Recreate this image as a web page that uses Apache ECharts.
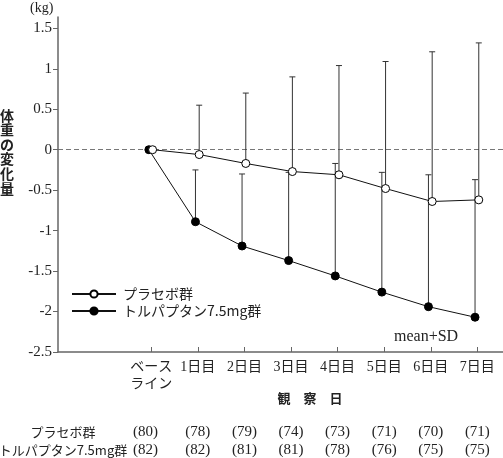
<!DOCTYPE html>
<html>
<head>
<meta charset="utf-8">
<script src="https://cdn.jsdelivr.net/npm/echarts@6/dist/echarts.min.js"></script>
<style>
html,body{margin:0;padding:0;background:#fff;}
#c{width:503px;height:458px;}
</style>
</head>
<body>
<div id="c"></div>
<script>
const categories = ['ベース\nライン','1日目','2日目','3日目','4日目','5日目','6日目','7日目'];
const placeboMean = [0, -0.06, -0.17, -0.27, -0.31, -0.48, -0.64, -0.62];
const placeboSDTop = [null, 0.55, 0.70, 0.90, 1.04, 1.09, 1.21, 1.32];
const tolMean = [0, -0.89, -1.19, -1.37, -1.56, -1.76, -1.94, -2.07];
const tolSDTop = [null, -0.25, -0.30, -0.28, -0.17, -0.28, -0.31, -0.37];
const placeboN = [80, 78, 79, 74, 73, 71, 70, 71];
const tolN = [82, 82, 81, 81, 78, 76, 75, 75];
const groupNames = ['プラセボ群', 'トルパプタン7.5mg群'];

const PL_OFF = 0.03, TOL_OFF = -0.05;
const serif = "'Liberation Serif','Noto Sans CJK JP',serif";
const jp = "'Noto Sans CJK JP','Liberation Serif',sans-serif";

const chart = echarts.init(document.getElementById('c'));
const idx = categories.map((_, i) => i);

function errData(means, tops, off) {
  const d = [];
  means.forEach((m, i) => { if (tops[i] != null) d.push([i + off, m, tops[i]]); });
  return d;
}
function renderErr(params, api) {
  const x = api.value(0), m = api.value(1), t = api.value(2);
  const p0 = api.coord([x, m]), p1 = api.coord([x, t]);
  const st = {stroke: '#333', lineWidth: 1};
  return {type: 'group', children: [
    {type: 'line', shape: {x1: p0[0], y1: p0[1], x2: p1[0], y2: p1[1]}, style: st},
    {type: 'line', shape: {x1: p1[0] - 3, y1: p1[1], x2: p1[0] + 3, y2: p1[1]}, style: st}
  ]};
}

chart.setOption({
  animation: false,
  grid: {left: 58, right: 0, top: 17, bottom: 106, containLabel: false},
  xAxis: {
    type: 'value', min: -2, max: 7.55,
    axisLine: {onZero: false, lineStyle: {color: '#666', width: 1.5}},
    axisTick: {inside: true, length: 5, customValues: idx, lineStyle: {color: '#666'}},
    axisLabel: {customValues: idx, formatter: v => categories[Math.round(v)] || '',
      color: '#222', fontSize: 14, fontFamily: serif, margin: 7, lineHeight: 17},
    splitLine: {show: false}
  },
  yAxis: {
    type: 'value', min: -2.5, max: 1.64, interval: 0.5,
    axisLine: {show: true, onZero: false, lineStyle: {color: '#666', width: 1.5}},
    axisTick: {show: true, inside: false, length: 5, lineStyle: {color: '#666'}},
    axisLabel: {color: '#222', fontSize: 15, fontFamily: serif, margin: 6,
      formatter: v => String(Math.round(v * 10) / 10)},
    splitLine: {show: false}
  },
  legend: {
    left: 66, top: 282, orient: 'vertical', itemGap: 3, itemWidth: 44, itemHeight: 9,
    data: groupNames,
    textStyle: {color: '#222', fontSize: 14, fontFamily: jp, padding: [0, 0, 0, 2]}
  },
  series: [
    {type: 'custom', renderItem: renderErr, data: errData(placeboMean, placeboSDTop, PL_OFF), z: 1, silent: true},
    {type: 'custom', renderItem: renderErr, data: errData(tolMean, tolSDTop, TOL_OFF), z: 1, silent: true},
    {name: groupNames[1], type: 'line', data: tolMean.map((v, i) => [i + TOL_OFF, v]),
      symbol: 'circle', symbolSize: 8, z: 3,
      lineStyle: {color: '#111', width: 1}, itemStyle: {color: '#000', borderColor: '#000', borderWidth: 1}},
    {name: groupNames[0], type: 'line', data: placeboMean.map((v, i) => [i + PL_OFF, v]),
      symbol: 'circle', symbolSize: 8, z: 4,
      lineStyle: {color: '#111', width: 1}, itemStyle: {color: '#fff', borderColor: '#000', borderWidth: 1},
      markLine: {silent: true, symbol: 'none', label: {show: false},
        lineStyle: {color: '#777', type: [5, 3], width: 1},
        data: [{yAxis: 0}], z: 0}
    }
  ]
});

const g = [];
g.push({type: 'text', left: 30, top: 1, style: {text: '(kg)', fontSize: 14, fontFamily: serif, fill: '#222'}});
g.push({type: 'text', left: 0, top: 108, style: {text: '体\n重\nの\n変\n化\n量', fontSize: 14, lineHeight: 14.6, fontWeight: 'bold', fontFamily: jp, fill: '#222'}});
const mx = chart.convertToPixel({xAxisIndex: 0}, 5.9);
g.push({type: 'text', x: mx, y: 337, style: {text: 'mean+SD', fontSize: 16, fontFamily: serif, fill: '#222', align: 'center', verticalAlign: 'middle'}});
g.push({type: 'text', x: 310, y: 398, style: {text: '観　察　日', fontSize: 13, fontWeight: 'bold', fontFamily: jp, fill: '#222', align: 'center', verticalAlign: 'middle'}});
const rows = [[groupNames[0], placeboN, 432], [groupNames[1], tolN, 450]];
rows.forEach(r => {
  g.push({type: 'text', x: 63, y: r[2], style: {text: r[0], fontSize: 13, fontFamily: jp, fill: '#222', align: 'center', verticalAlign: 'middle'}});
  r[1].forEach((n, i) => {
    const px = chart.convertToPixel({xAxisIndex: 0}, i === 0 ? i - 0.12 : i);
    g.push({type: 'text', x: px, y: r[2], style: {text: '(' + n + ')', fontSize: 15, fontFamily: serif, fill: '#222', align: 'center', verticalAlign: 'middle'}});
  });
});
chart.setOption({graphic: g});
</script>
</body>
</html>
